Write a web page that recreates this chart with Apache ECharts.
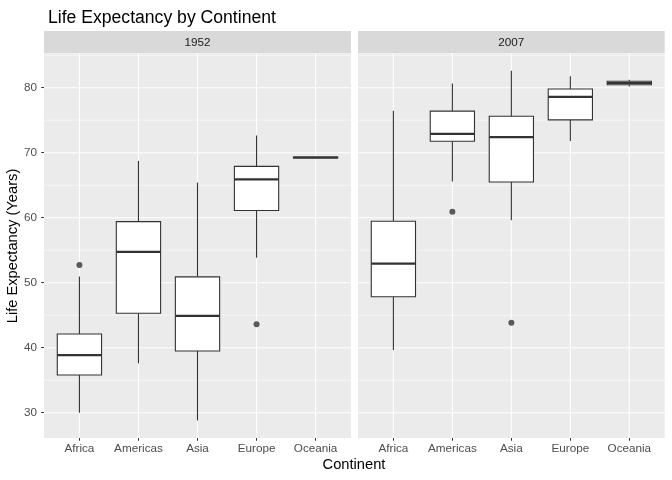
<!DOCTYPE html>
<html lang="en">
<head>
    <meta charset="utf-8">
    <title>Life Expectancy by Continent</title>
    <script src="https://cdn.jsdelivr.net/npm/echarts@6/dist/echarts.min.js"></script>
    <style type="text/css">
        html, body { margin: 0; padding: 0; background: #fff; }
        #chart { width: 672px; height: 480px; }
    </style>
</head>
<body>
<div id="chart"></div>
<script>
    // data: [min, Q1, median, Q3, max]
    var continents = ['Africa', 'Americas', 'Asia', 'Europe', 'Oceania'];
    var years = ['1952', '2007'];
    var box1952 = [
        [30.0, 35.8, 38.85, 42.1, 50.95],
        [37.6, 45.3, 54.75, 59.4, 68.75],
        [28.8, 39.5, 44.9, 50.9, 65.4],
        [53.85, 61.1, 65.9, 67.9, 72.65],
        [69.12, 69.19, 69.26, 69.32, 69.39]
    ];
    var box2007 = [
        [39.65, 47.85, 52.95, 59.45, 76.45],
        [65.55, 71.75, 72.9, 76.4, 80.65],
        [59.6, 65.5, 72.4, 75.6, 82.6],
        [71.8, 75.05, 78.6, 79.8, 81.75],
        [80.2, 80.46, 80.72, 80.98, 81.24]
    ];
    var outliers1952 = [['Africa', 52.72], ['Europe', 43.59]];
    var outliers2007 = [['Americas', 60.92], ['Asia', 43.83]];
    var yTicks = [30, 40, 50, 60, 70, 80];
    var yMinor = [35, 45, 55, 65, 75, 85];
    var yRange = [26.11, 85.29];

    var font = '"Liberation Sans", Arial, sans-serif';
    var ink = '#333333';
    var panels = [{ left: 44, width: 307 }, { left: 358, width: 306.7 }];
    var panelTop = 53.3, panelHeight = 384.7;

    var catPos = continents.map(function(c, i) { return i + 1; });

    // ggplot-like white grid lines, drawn under the boxes
    function renderGrid(params, api) {
        var cs = params.coordSys;
        var kind = api.value(0), v = api.value(1);
        if (kind === 2) {
            var x = api.coord([v, yRange[0]])[0];
            return { type: 'line', shape: { x1: x, y1: cs.y, x2: x, y2: cs.y + cs.height },
                style: { stroke: '#fff', lineWidth: 1.1 } };
        }
        var y = api.coord([1, v])[1];
        return { type: 'line', shape: { x1: cs.x, y1: y, x2: cs.x + cs.width, y2: y },
            style: { stroke: '#fff', lineWidth: kind === 0 ? 1.1 : 0.55 } };
    }

    function renderBox(params, api) {
        var x = api.value(0);
        var lo = api.coord([x, api.value(1)]);
        var q1 = api.coord([x, api.value(2)]);
        var md = api.coord([x, api.value(3)]);
        var q3 = api.coord([x, api.value(4)]);
        var hi = api.coord([x, api.value(5)]);
        var w = api.size([1, 0])[0] * 0.75;
        var cx = md[0];
        return {
            type: 'group',
            children: [
                { type: 'line', shape: { x1: cx, y1: hi[1], x2: cx, y2: q3[1] }, style: { stroke: ink, lineWidth: 1.1 } },
                { type: 'line', shape: { x1: cx, y1: q1[1], x2: cx, y2: lo[1] }, style: { stroke: ink, lineWidth: 1.1 } },
                { type: 'rect', shape: { x: cx - w / 2, y: q3[1], width: w, height: q1[1] - q3[1] },
                    style: { fill: '#fff', stroke: ink, lineWidth: 1.1 } },
                { type: 'line', shape: { x1: cx - w / 2, y1: md[1], x2: cx + w / 2, y2: md[1] },
                    style: { stroke: ink, lineWidth: 2.2 } }
            ]
        };
    }

    var gridData = [];
    yTicks.forEach(function(v) { gridData.push([0, v]); });
    yMinor.forEach(function(v) { gridData.push([1, v]); });
    catPos.forEach(function(v) { gridData.push([2, v]); });

    var boxes = [box1952, box2007];
    var outs = [outliers1952, outliers2007];

    var grids = [], xAxes = [], yAxes = [], series = [], graphics = [];
    panels.forEach(function(p, k) {
        grids.push({ left: p.left, top: panelTop, width: p.width, height: panelHeight,
            show: true, backgroundColor: '#EBEBEB', borderWidth: 0 });
        xAxes.push({
            type: 'value', gridIndex: k, min: 0.4, max: 5.6,
            axisLine: { show: false },
            splitLine: { show: false },
            axisTick: { show: true, length: 2.75, customValues: catPos, lineStyle: { color: ink, width: 1 } },
            axisLabel: { customValues: catPos, margin: 5, color: '#4D4D4D', fontSize: 11.7, fontFamily: font,
                formatter: function(v) { return continents[Math.round(v) - 1] || ''; } }
        });
        yAxes.push({
            type: 'value', gridIndex: k, min: yRange[0], max: yRange[1],
            axisLine: { show: false },
            splitLine: { show: false },
            axisTick: { show: k === 0, length: 2.75, customValues: yTicks, lineStyle: { color: ink, width: 1 } },
            axisLabel: { show: k === 0, customValues: yTicks, margin: 7, color: '#4D4D4D', fontSize: 11.7, fontFamily: font }
        });
        series.push({
            type: 'custom', xAxisIndex: k, yAxisIndex: k, z: 1, silent: true,
            renderItem: renderGrid, data: gridData
        });
        series.push({
            type: 'custom', name: years[k], xAxisIndex: k, yAxisIndex: k, z: 3,
            renderItem: renderBox,
            data: boxes[k].map(function(b, i) { return [catPos[i]].concat(b); })
        });
        series.push({
            type: 'scatter', xAxisIndex: k, yAxisIndex: k, z: 4,
            symbolSize: 6, itemStyle: { color: ink },
            data: outs[k].map(function(o) { return [continents.indexOf(o[0]) + 1, o[1]]; })
        });
        // facet strip
        graphics.push({ type: 'rect', left: p.left, top: 31, shape: { width: p.width, height: 22 },
            style: { fill: '#D9D9D9' } });
        graphics.push({ type: 'text', x: p.left + p.width / 2, y: 42.5,
            style: { text: years[k], fill: '#1A1A1A', font: '11.7px ' + font, align: 'center', verticalAlign: 'middle' } });
    });

    graphics.push({ type: 'text', x: 354, y: 465,
        style: { text: 'Continent', fill: '#000', font: '14.7px ' + font, align: 'center', verticalAlign: 'middle' } });
    graphics.push({ type: 'text', x: 12.5, y: 246, rotation: Math.PI / 2,
        style: { text: 'Life Expectancy (Years)', fill: '#000', font: '14.7px ' + font, align: 'center', verticalAlign: 'middle' } });

    var chart = echarts.init(document.getElementById('chart'));
    chart.setOption({
        animation: false,
        title: {
            text: 'Life Expectancy by Continent', left: 43, top: 4,
            textStyle: { fontSize: 17.6, fontWeight: 'normal', color: '#000', fontFamily: font }
        },
        grid: grids,
        xAxis: xAxes,
        yAxis: yAxes,
        graphic: graphics,
        series: series
    });
</script>
</body>
</html>
